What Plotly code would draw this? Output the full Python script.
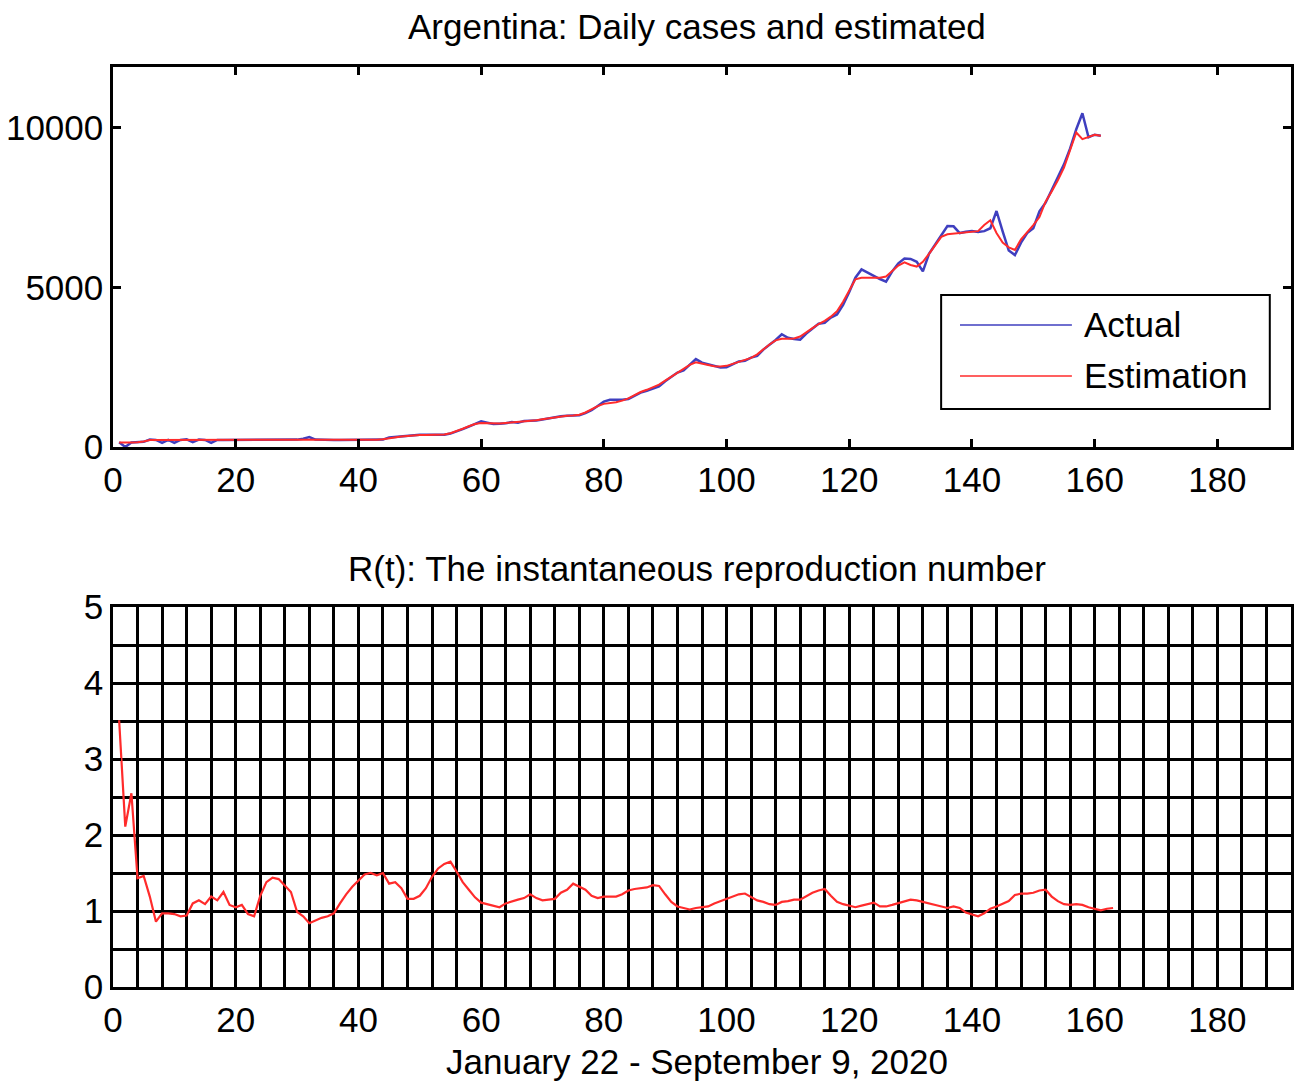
import plotly.graph_objects as go

# ---- data -------------------------------------------------------------
days_cases = list(range(1, 162))
actual_cases = [
    150, 0, 140, 150, 160, 230, 220, 130, 220, 130,
    220, 240, 150, 230, 220, 130, 220, 220, 220, 220,
    220, 220, 220, 220, 220, 220, 220, 220, 220, 230,
    260, 310, 230, 220, 220, 220, 220, 220, 220, 220,
    220, 220, 220, 230, 300, 320, 330, 340, 375, 380,
    380, 375, 380, 385, 420, 480, 560, 640, 720, 800,
    760, 720, 730, 740, 780, 760, 810, 820, 825, 860,
    900, 930, 960, 980, 975, 990, 1060, 1150, 1280, 1420,
    1480, 1470, 1480, 1500, 1600, 1700, 1760, 1830, 1900, 2060,
    2200, 2330, 2400, 2570, 2750, 2640, 2590, 2520, 2490, 2500,
    2580, 2680, 2700, 2800, 2850, 3050, 3200, 3350, 3530, 3420,
    3380, 3360, 3550, 3700, 3860, 3890, 4050, 4150, 4450, 4850,
    5300, 5560, 5450, 5360, 5260, 5180, 5500, 5750, 5900, 5890,
    5800, 5500, 6050, 6350, 6650, 6920, 6910, 6700, 6740, 6760,
    6730, 6760, 6850, 7390, 6750, 6150, 6010, 6400, 6700, 6850,
    7380, 7650, 8050, 8450, 8850, 9350, 9950, 10450, 9700, 9780, 9750,
]
estimated_cases = [
    140, 130, 140, 145, 170, 220, 220, 215, 215, 215,
    220, 220, 215, 220, 220, 215, 220, 220, 220, 220,
    220, 220, 220, 220, 220, 220, 220, 220, 220, 220,
    225, 230, 225, 220, 220, 220, 220, 220, 220, 220,
    220, 220, 225, 240, 270, 310, 330, 345, 365, 375,
    378, 380, 382, 390, 430, 490, 570, 650, 720, 750,
    740, 730, 735, 750, 765, 790, 805, 820, 840, 870,
    900, 935, 960, 975, 985, 1010, 1080, 1180, 1280, 1350,
    1370, 1400, 1450, 1520, 1620, 1720, 1790, 1860, 1950, 2080,
    2200, 2320, 2430, 2570, 2650, 2620, 2570, 2530, 2520, 2540,
    2600, 2670, 2720, 2790, 2900, 3060, 3210, 3340, 3390, 3390,
    3400, 3460, 3580, 3720, 3850, 3950, 4080, 4250, 4550, 4900,
    5250, 5300, 5300, 5290, 5300, 5340, 5500, 5680, 5780, 5700,
    5650, 5800, 6050, 6330, 6580, 6660, 6680, 6700, 6720, 6740,
    6760, 6950, 7100, 6700, 6400, 6250, 6170, 6500, 6720, 6950,
    7200, 7680, 8000, 8350, 8750, 9300, 9850, 9640, 9700, 9780, 9750,
]

days_r = list(range(1, 164))
r_t = [
    3.51, 2.11, 2.55, 1.43, 1.46, 1.19, 0.86, 0.97, 0.97, 0.96,
    0.93, 0.94, 1.10, 1.14, 1.09, 1.19, 1.14, 1.25, 1.08, 1.05,
    1.08, 0.96, 0.93, 1.20, 1.38, 1.44, 1.42, 1.33, 1.25, 0.99,
    0.93, 0.84, 0.88, 0.91, 0.93, 0.97, 1.10, 1.22, 1.32, 1.40,
    1.48, 1.50, 1.47, 1.50, 1.36, 1.38, 1.30, 1.16, 1.16, 1.20,
    1.30, 1.45, 1.56, 1.62, 1.65, 1.52, 1.38, 1.28, 1.18, 1.11,
    1.09, 1.08, 1.05, 1.10, 1.13, 1.15, 1.17, 1.22, 1.17, 1.14,
    1.15, 1.16, 1.24, 1.28, 1.36, 1.32, 1.28, 1.20, 1.17, 1.19,
    1.19, 1.19, 1.22, 1.27, 1.29, 1.30, 1.31, 1.34, 1.33, 1.22,
    1.12, 1.06, 1.04, 1.02, 1.04, 1.05, 1.06, 1.10, 1.13, 1.16,
    1.18, 1.22, 1.23, 1.19, 1.14, 1.12, 1.09, 1.08, 1.12, 1.13,
    1.15, 1.15, 1.20, 1.24, 1.27, 1.29, 1.20, 1.12, 1.09, 1.07,
    1.05, 1.07, 1.09, 1.11, 1.06, 1.06, 1.08, 1.10, 1.13, 1.15,
    1.14, 1.12, 1.09, 1.07, 1.05, 1.04, 1.06, 1.04, 0.98, 0.95,
    0.93, 0.97, 1.03, 1.06, 1.10, 1.13, 1.21, 1.23, 1.23, 1.24,
    1.27, 1.28, 1.19, 1.13, 1.09, 1.08, 1.09, 1.08, 1.05, 1.03,
    1.01, 1.03, 1.04,
]

x_ticks = [0, 20, 40, 60, 80, 100, 120, 140, 160, 180]
cases_ticks = [0, 5000, 10000]
cases_tick_text = ["0", "5000", "10000"]
r_ticks = [0, 1, 2, 3, 4, 5]

legend_labels = ["Actual", "Estimation"]
top_title = "Argentina: Daily cases and estimated"
bottom_title = "R(t): The instantaneous reproduction number"
x_label = "January 22 - September 9, 2020"

# ---- styling ----------------------------------------------------------
BLUE = "#3f3fbf"
RED = "#ff2b2b"
FONT = "Liberation Sans, Arial, Helvetica, sans-serif"
FS = 35

fig = go.Figure()
fig.add_trace(go.Scatter(x=days_cases, y=actual_cases, mode="lines",
                         line=dict(color=BLUE, width=2.5), name=legend_labels[0],
                         xaxis="x", yaxis="y", showlegend=False))
fig.add_trace(go.Scatter(x=days_cases, y=estimated_cases, mode="lines",
                         line=dict(color=RED, width=2), name=legend_labels[1],
                         xaxis="x", yaxis="y", showlegend=False))
fig.add_trace(go.Scatter(x=days_r, y=r_t, mode="lines",
                         line=dict(color=RED, width=2.2), name="R(t)",
                         xaxis="x2", yaxis="y2", showlegend=False))

axis_common = dict(
    showline=True, linecolor="black", linewidth=2.5, mirror="ticks",
    ticks="inside", ticklen=8, tickwidth=3, tickcolor="black",
    zeroline=False, automargin=False,
    tickfont=dict(family=FONT, size=FS, color="black"),
)

fig.update_layout(
    width=1301, height=1086,
    margin=dict(l=113, r=10, t=67, b=99),
    paper_bgcolor="white", plot_bgcolor="white",
    font=dict(family=FONT, size=FS, color="black"),
    xaxis=dict(axis_common, domain=[0, 1], range=[0, 192], tickvals=x_ticks,
               anchor="y", showgrid=False),
    yaxis=dict(axis_common, domain=[0.587, 1], range=[0, 11900], tickvals=cases_ticks,
               ticktext=cases_tick_text, anchor="x", showgrid=False),
    xaxis2=dict(axis_common, domain=[0, 1], range=[0, 192], tickvals=x_ticks,
                anchor="y2", showgrid=True, gridcolor="black", gridwidth=2.5,
                minor=dict(dtick=4, tick0=0, showgrid=True, gridcolor="black",
                           gridwidth=2.5, ticks="")),
    yaxis2=dict(axis_common, domain=[0, 0.413], range=[0, 5], tickvals=r_ticks,
                anchor="x2", showgrid=True, gridcolor="black", gridwidth=2.5,
                minor=dict(dtick=0.5, tick0=0, showgrid=True, gridcolor="black",
                           gridwidth=2.5, ticks="")),
)

# titles and axis label
fig.add_annotation(text=top_title, xref="paper", yref="paper", x=0.496, y=1.0435,
                   showarrow=False, xanchor="center", yanchor="middle",
                   font=dict(family=FONT, size=FS, color="black"))
fig.add_annotation(text=bottom_title, xref="paper", yref="paper", x=0.496, y=0.4554,
                   showarrow=False, xanchor="center", yanchor="middle",
                   font=dict(family=FONT, size=FS, color="black"))
fig.add_annotation(text=x_label, xref="paper", yref="paper", x=0.496, y=-0.0815,
                   showarrow=False, xanchor="center", yanchor="middle",
                   font=dict(family=FONT, size=FS, color="black"))

# legend box for the upper panel (drawn in the panel's domain coordinates)
fig.add_shape(type="rect", xref="x domain", yref="y domain",
              x0=0.703, x1=0.982, y0=0.1, y1=0.4,
              line=dict(color="black", width=2), fillcolor="white", layer="above")
legend_colors = [BLUE, RED]
legend_rows = [0.321, 0.187]
for label, color, yy in zip(legend_labels, legend_colors, legend_rows):
    fig.add_shape(type="line", xref="x domain", yref="y domain",
                  x0=0.719, x1=0.814, y0=yy, y1=yy,
                  line=dict(color=color, width=1.5), layer="above")
    fig.add_annotation(text=label, xref="x domain", yref="y domain",
                       x=0.823, y=yy, showarrow=False, xanchor="left",
                       yanchor="middle",
                       font=dict(family=FONT, size=FS, color="black"))

fig.write_html("out.html")
